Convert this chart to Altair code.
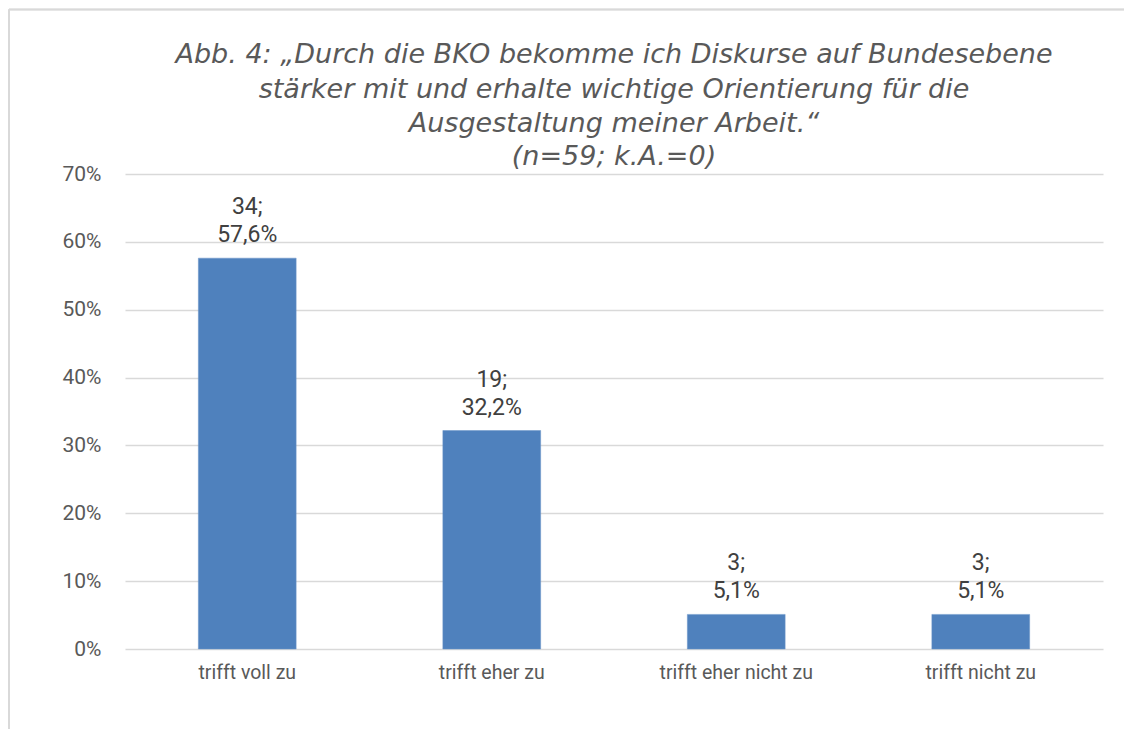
import altair as alt
import pandas as pd

categories = ["trifft voll zu", "trifft eher zu", "trifft eher nicht zu", "trifft nicht zu"]
counts = [34, 19, 3, 3]
percents = [57.6, 32.2, 5.1, 5.1]
y_ticks = [0, 10, 20, 30, 40, 50, 60, 70]
title_lines = [
    "Abb. 4: \u201eDurch die BKO bekomme ich Diskurse auf Bundesebene",
    "st\u00e4rker mit und erhalte wichtige Orientierung f\u00fcr die",
    "Ausgestaltung meiner Arbeit.\u201c",
    "(n=59; k.A.=0)",
]

df = pd.DataFrame({"cat": categories, "n": counts, "pct": percents})
df["line1"] = [f"{n};" for n in counts]
df["line2"] = [f"{str(p).replace('.', ',')}%" for p in percents]

FONT = "Roboto"
TFONT = "DejaVu Sans"
x_enc = alt.X("cat:N", sort=categories, title=None,
              scale=alt.Scale(paddingInner=0.6, paddingOuter=0.3),
              axis=alt.Axis(labelAngle=0, ticks=False, domain=False, labelPadding=14,
                            labelFontSize=19.5, labelColor="#595959", labelFont=FONT))
y_enc = alt.Y("pct:Q", title=None,
              scale=alt.Scale(domain=[0, 70], nice=False),
              axis=alt.Axis(values=y_ticks, labelExpr="datum.value + '%'", ticks=False,
                            domain=False, gridColor="#D9D9D9", gridWidth=1.3,
                            labelPadding=24, labelFontSize=21, labelColor="#595959",
                            labelFont=FONT))

bars = alt.Chart(df).mark_bar(color="#4F81BD", stroke="#6b95c9", strokeWidth=0.5).encode(x=x_enc, y=y_enc)
lab1 = alt.Chart(df).mark_text(baseline="alphabetic", dy=-44, fontSize=23,
                               color="#404040", font=FONT).encode(
    x=alt.X("cat:N", sort=categories), y="pct:Q", text="line1:N")
lab2 = alt.Chart(df).mark_text(baseline="alphabetic", dy=-16, fontSize=23,
                               color="#404040", font=FONT).encode(
    x=alt.X("cat:N", sort=categories), y="pct:Q", text="line2:N")

tdf = pd.DataFrame({"t": title_lines, "i": list(range(len(title_lines)))})
title_layers = []
for i, (txt, ypos) in enumerate(zip(title_lines, [-111, -76, -42, -9])):
    title_layers.append(
        alt.Chart(tdf[tdf.i == i]).mark_text(fontSize=27, fontStyle="italic", color="#595959",
                                             font=TFONT, baseline="alphabetic", align="center").encode(
            x=alt.value(489), y=alt.value(ypos), text="t:N"))

border_top = alt.Chart(df).mark_rule(color="#D9D9D9", strokeWidth=1.5).encode(
    x=alt.value(-116), x2=alt.value(1011), y=alt.value(-164.5))
border_left = alt.Chart(df).mark_rule(color="#D9D9D9", strokeWidth=1.5).encode(
    x=alt.value(-116), y=alt.value(-164.5), y2=alt.value(575))

chart = alt.layer(border_top, border_left, bars, lab1, lab2, *title_layers).properties(
    width=978, height=475,
    autosize=alt.AutoSizeParams(type="none"),
    padding={"left": 117, "top": 166, "right": 21, "bottom": 80},
).configure(background="white").configure_view(stroke=None)

chart.save("out.html", embed_options={"renderer": "svg", "actions": False})
